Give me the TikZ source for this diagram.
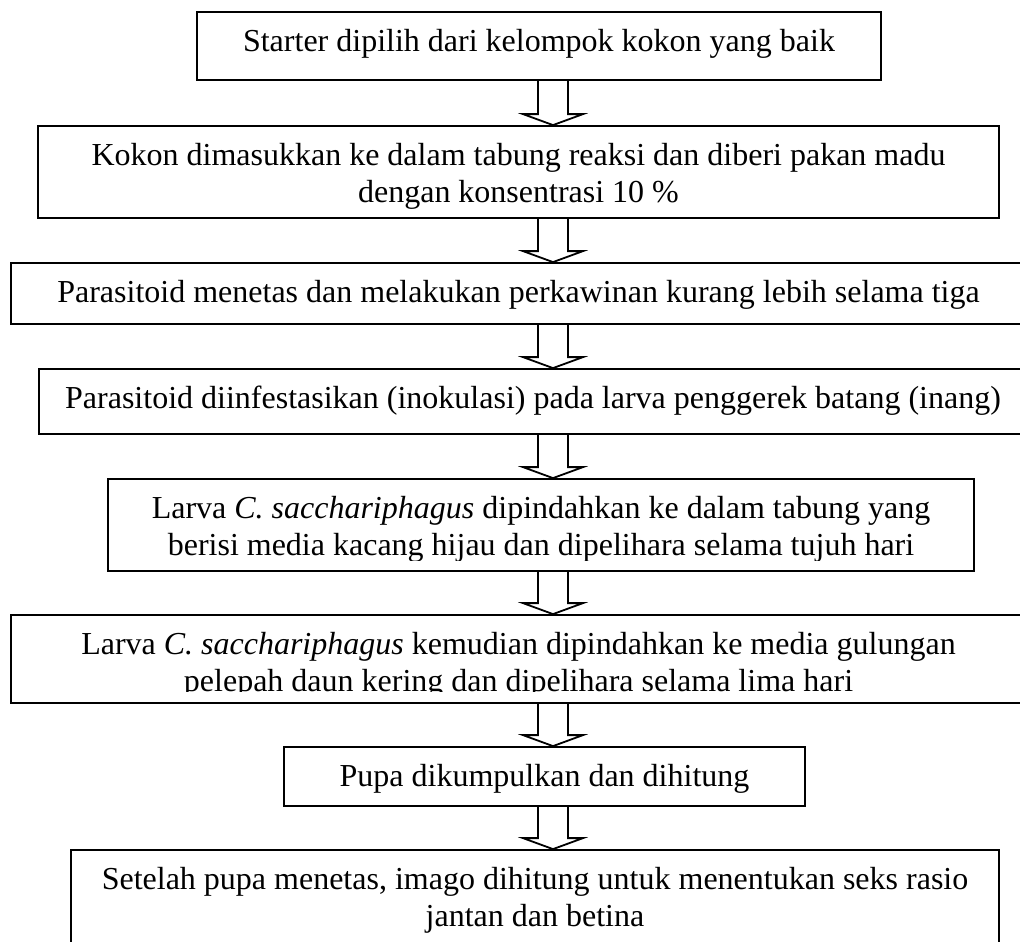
\documentclass[tikz,border=0pt]{standalone}
\usepackage{fontspec}
\setmainfont{Liberation Serif}
\usetikzlibrary{calc}
\tikzset{
  box/.style={draw, line width=1.8pt, inner sep=0pt},
  txt/.style={anchor=base, align=center, inner sep=0pt, font=\fontsize{32}{37}\selectfont},
  blk/.style={draw, line width=1.8pt, line join=miter}
}
\begin{document}
\begin{tikzpicture}[x=1pt, y=1pt]
    \useasboundingbox (0,0) rectangle (1020,-942);
    \clip (0,0) rectangle (1020,-942);
    \coordinate (ax) at (553,0); % arrow axis
    % boxes
    \node [box, minimum width=684pt, minimum height=68pt] (b1) at (539,-46) {};
    \node [box, minimum width=961pt, minimum height=92pt] (b2) at (518.5,-172) {};
    \node [box, minimum width=1015pt, minimum height=61pt] (b3) at (518.5,-293.5) {};
    \node [box, minimum width=988pt, minimum height=65pt] (b4) at (533,-401.5) {};
    \node [box, minimum width=866pt, minimum height=92pt] (b5) at (541,-525) {};
    \node [box, minimum width=1015pt, minimum height=88pt] (b6) at (518.5,-659) {};
    \node [box, minimum width=521pt, minimum height=59pt] (b7) at (544.5,-776.5) {};
    \node [box, minimum width=928pt, minimum height=96pt] (b8) at (535,-898) {};
    % texts (base of a two-line node is its last line)
    \node [txt] (t1) at ([yshift=-40pt]b1.north) {Starter dipilih dari kelompok kokon yang baik};
    \node [txt] (t2) at ([yshift=-77pt]b2.north) {Kokon dimasukkan ke dalam tabung reaksi dan diberi pakan madu\\dengan konsentrasi 10 \%};
    \node [txt] (t3) at ([yshift=-40pt]b3.north) {Parasitoid menetas dan melakukan perkawinan kurang lebih selama tiga};
    \node [txt] (t4) at ([yshift=-40pt]b4.north) {Parasitoid diinfestasikan (inokulasi) pada larva penggerek batang (inang)};
    \begin{scope}
      \clip (b5.north west) rectangle ([yshift=11pt]b5.south east);
      \node [txt] (t5) at ([yshift=-77pt]b5.north) {Larva \textit{C. sacchariphagus} dipindahkan ke dalam tabung yang\\berisi media kacang hijau dan dipelihara selama tujuh hari};
    \end{scope}
    \begin{scope}
      \clip (b6.north west) rectangle ([yshift=12pt]b6.south east);
      \node [txt] (t6) at ([yshift=-77pt]b6.north) {Larva \textit{C. sacchariphagus} kemudian dipindahkan ke media gulungan\\pelepah daun kering dan dipelihara selama lima hari};
    \end{scope}
    \node [txt] (t7) at ([yshift=-40pt]b7.north) {Pupa dikumpulkan dan dihitung};
    \node [txt] (t8) at ([yshift=-77pt]b8.north) {Setelah pupa menetas, imago dihitung untuk menentukan seks rasio\\jantan dan betina};
    % block arrows
    \foreach \a/\b in {b1/b2, b2/b3, b3/b4, b4/b5, b5/b6, b6/b7, b7/b8}
      \draw [blk] let \p1 = (\a.south), \p2 = (\b.north), \p3 = (ax) in
        (\x3-15,\y1) -- (\x3-15,\y2+11) -- (\x3-30,\y2+11) -- (\x3,\y2)
        -- (\x3+30,\y2+11) -- (\x3+15,\y2+11) -- (\x3+15,\y1);
\end{tikzpicture}
\end{document}
